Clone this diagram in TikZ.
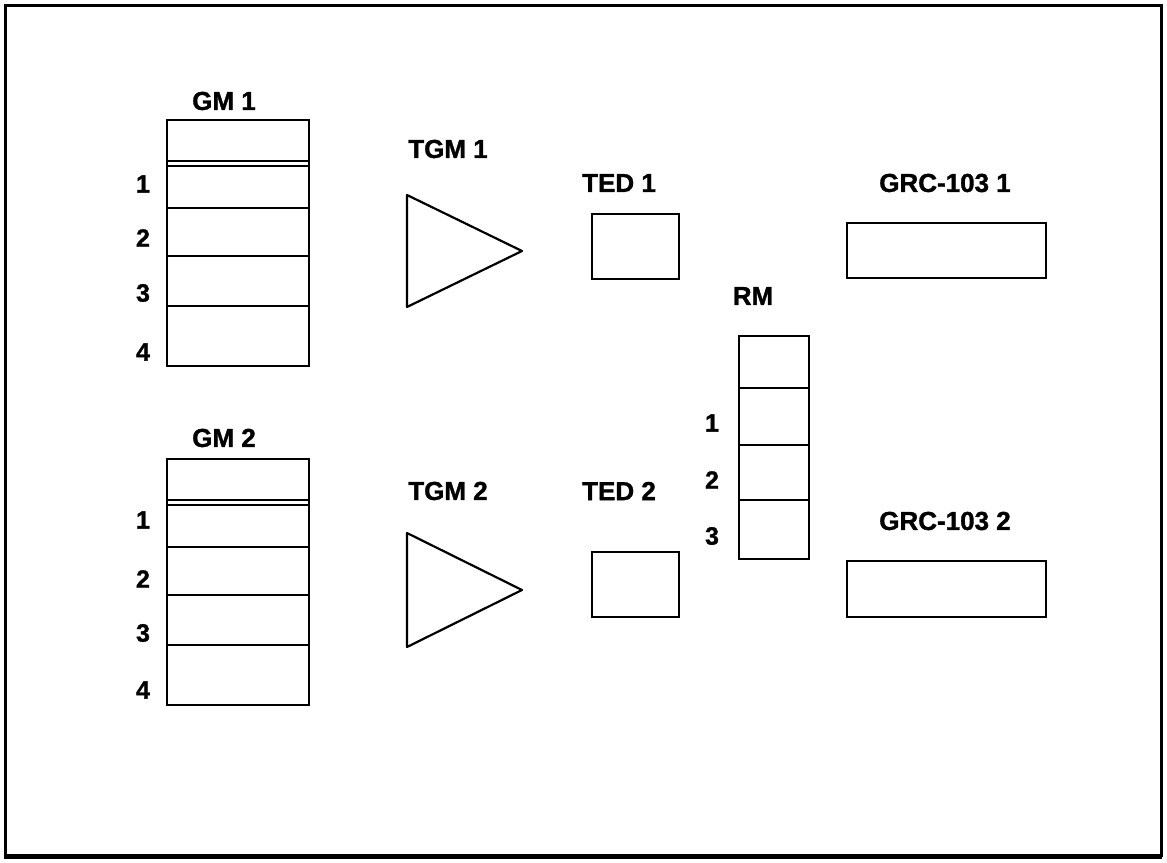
\documentclass[tikz,border=0pt]{standalone}
\usepackage{fontspec}
\setmainfont{Liberation Sans}
\newfontfamily\heavy[FakeBold=1.3]{Liberation Sans}
\begin{document}
\begin{tikzpicture}[x=1pt,y=-1pt,
  box/.style={draw,line width=2.2pt,inner sep=0pt,anchor=north west},
  div/.style={line width=2.2pt},
  lbl/.style={font=\heavy\fontsize{26}{28}\selectfont\bfseries,inner sep=0pt},
  num/.style={font=\heavy\fontsize{25}{27}\selectfont\bfseries,inner sep=0pt}]
\useasboundingbox (0,0) rectangle (1167,862);
% frame
\draw[line width=3pt] (5,5) rectangle (1161,855);
\draw[line width=5pt] (4,856) -- (1162,856);
% GM boxes
\foreach \n/\t in {1/119,2/458}{
  \node[box,minimum width=142pt,minimum height=246pt] (gm\n) at (166,\t) {};
  \foreach \o in {42,47,89,137,187}
    \draw[div] ([yshift=-\o pt]gm\n.north west) -- ([yshift=-\o pt]gm\n.north east);
}
\node[lbl] (gm1lbl) at (224,101) {GM 1};
\node[lbl] (gm2lbl) at (224,438) {GM 2};
\node[num] (g11) at (143,184) {1};
\node[num] (g12) at (143,238) {2};
\node[num] (g13) at (143,293) {3};
\node[num] (g14) at (143,352) {4};
\node[num] (g21) at (143,520) {1};
\node[num] (g22) at (143,579) {2};
\node[num] (g23) at (143,633) {3};
\node[num] (g24) at (143,690) {4};
% TGM triangles
\draw[div,line join=round] (407,195) -- (522,251) -- (407,307) -- cycle;
\draw[div,line join=round] (407,533) -- (522,590) -- (407,647) -- cycle;
\node[lbl] (tgm1) at (448,149) {TGM 1};
\node[lbl] (tgm2) at (448,491) {TGM 2};
% TED boxes
\node[box,minimum width=87pt,minimum height=65pt] (ted1) at (591,213) {};
\node[box,minimum width=87pt,minimum height=65pt] (ted2) at (591,551) {};
\node[lbl] (ted1lbl) at (619,183) {TED 1};
\node[lbl] (ted2lbl) at (619,491) {TED 2};
% RM
\node[box,minimum width=70pt,minimum height=223pt] (rm) at (738,335) {};
\foreach \o in {53,110,165}
  \draw[div] ([yshift=-\o pt]rm.north west) -- ([yshift=-\o pt]rm.north east);
\node[lbl] (rmlbl) at (753,296) {RM};
\node[num] (r1) at (712,423) {1};
\node[num] (r2) at (712,480) {2};
\node[num] (r3) at (712,536) {3};
% GRC-103
\node[box,minimum width=199pt,minimum height=55pt] (grc1) at (846,222) {};
\node[box,minimum width=199pt,minimum height=56pt] (grc2) at (846,560) {};
\node[lbl] (grc1lbl) at (945,183) {GRC-103 1};
\node[lbl] (grc2lbl) at (945,521) {GRC-103 2};
\end{tikzpicture}
\end{document}
